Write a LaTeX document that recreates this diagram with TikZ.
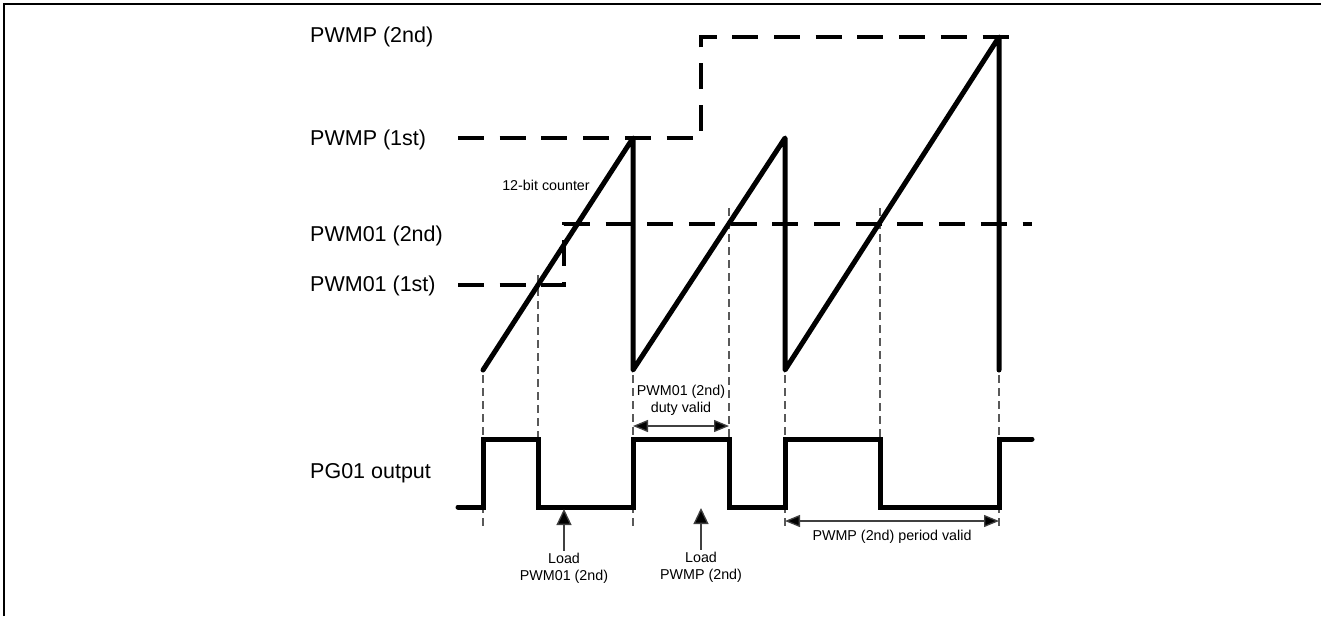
\documentclass[tikz,border=0pt]{standalone}
\usepackage{fontspec}
\setmainfont{Liberation Sans}
\usetikzlibrary{arrows.meta}
\begin{document}
\begin{tikzpicture}[x=1pt,y=-1pt,
  big/.style={font=\fontsize{21.5}{24}\selectfont, inner sep=0pt, anchor=west},
  small/.style={font=\fontsize{14.3}{17}\selectfont, inner sep=0pt, align=center},
  wave/.style={line width=5pt, line cap=round},
  level/.style={line width=3.4pt, dash pattern=on 26pt off 15.7pt},
  guide/.style={line width=1.2pt, draw=black!65, dash pattern=on 8pt off 5pt},
  dim/.style={line width=1.3pt, draw=black!75, {Triangle[length=15pt,width=12pt,fill=black]}-{Triangle[length=15pt,width=12pt,fill=black]}},
  uparrow/.style={line width=1.3pt, draw=black!75, -{Triangle[length=16pt,width=15pt,fill=black]}},
]
\useasboundingbox (0,0) rectangle (1321,616);
\draw[line width=2pt] (4,616) -- (4,4) -- (1321,4);

% left labels
\node[big] (lp2) at (310,37) {PWMP (2nd)};
\node[big] (lp1) at (310,140) {PWMP (1st)};
\node[big] (ld2) at (310,236) {PWM01 (2nd)};
\node[big] (ld1) at (310,286) {PWM01 (1st)};
\node[big] (lpg) at (310,473) {PG01 output};

% compare levels
\draw[level] (458,138) -- (701,138) -- (701,37) -- (1018,37);
\draw[level] (458,285) -- (564,285) -- (564,224) -- (1032,224);

% guides
\draw[guide] (483,375) -- (483,530);
\draw[guide] (538,275) -- (538,437);
\draw[guide] (633,375) -- (633,530);
\draw[guide] (729,208) -- (729,437);
\draw[guide] (785,375) -- (785,530);
\draw[guide] (880,208) -- (880,437);
\draw[guide] (999,375) -- (999,530);

% counter sawtooth
\draw[wave, line join=round] (483,370) -- (633,138) -- (633,370) -- (785,138) -- (785,370) -- (999,37) -- (999,370);
\node[small] (cnt) at (546,185) {12-bit counter};

% PG01 output
\draw[wave, line join=miter] (458,507) -- (483,507) -- (483,439) -- (538,439) -- (538,507) -- (633,507) -- (633,439) -- (729,439) -- (729,507) -- (785,507) -- (785,439) -- (880,439) -- (880,507) -- (999,507) -- (999,439) -- (1032,439);

% duty valid
\coordinate (d1) at (633,426);
\coordinate (d2) at (729,426);
\draw[dim] (d1) -- (d2);
\node[small] (tdv) at (681,400) {PWM01 (2nd)\\duty valid};

% period valid
\coordinate (p1) at (785,521);
\coordinate (p2) at (999,521);
\draw[dim] (p1) -- (p2);
\node[small] (tpv) at (892,537) {PWMP (2nd) period valid};

% load arrows
\node[small] (lw) at (564,568) {Load\\PWM01 (2nd)};
\coordinate (lwt) at (564,509);
\draw[uparrow] (lw.north) ++(0,-2) -- (lwt);
\node[small] (lpp) at (701,567) {Load\\PWMP (2nd)};
\coordinate (lpt) at (701,508);
\draw[uparrow] (lpp.north) ++(0,-2) -- (lpt);
\end{tikzpicture}
\end{document}
